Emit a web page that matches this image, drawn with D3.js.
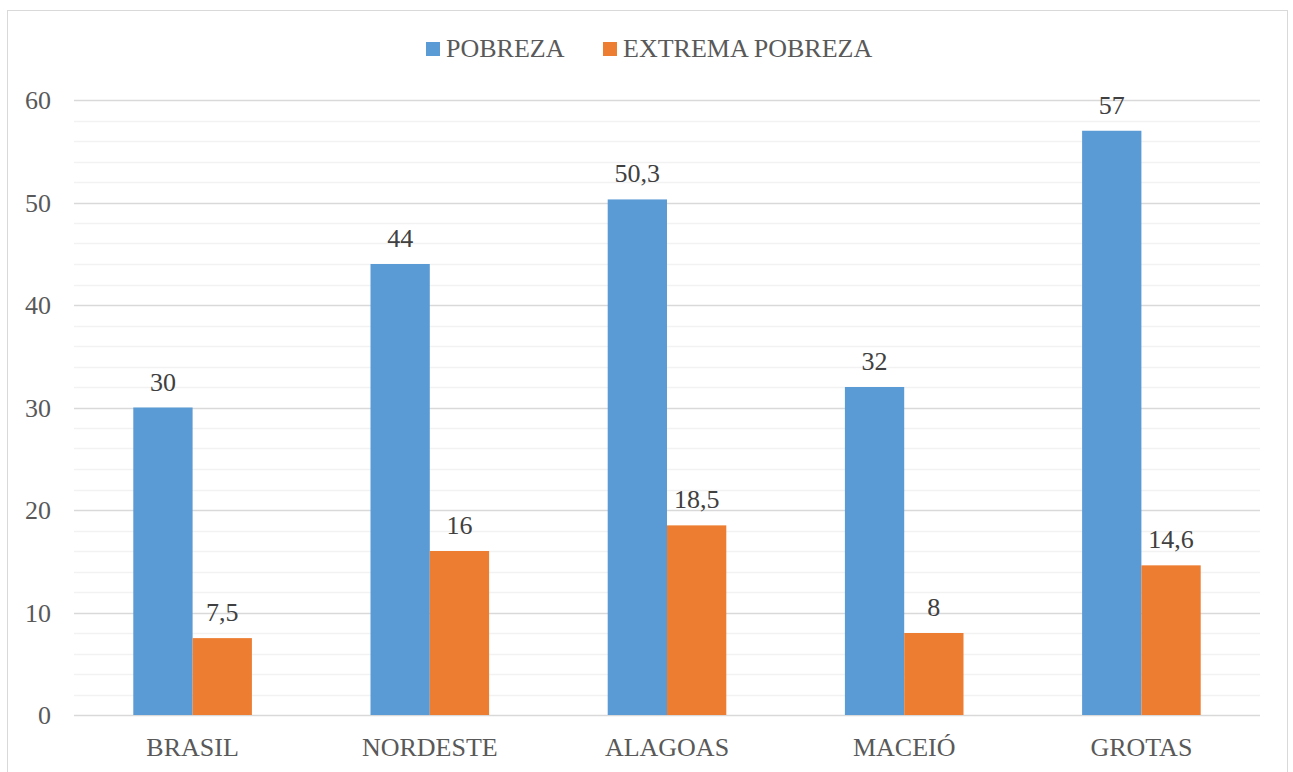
<!DOCTYPE html>
<html>
<head>
<meta charset="utf-8">
<script src="https://cdn.jsdelivr.net/npm/d3@7"></script>
<style>
  body { margin: 0; background: #fff; }
  svg { display: block; font-family: "Liberation Serif", "Times New Roman", serif; }
</style>
</head>
<body>
<svg id="chart" width="1293" height="772"></svg>
<script>
// categorias e séries
const categories = ['BRASIL', 'NORDESTE', 'ALAGOAS', 'MACEIÓ', 'GROTAS'];
const seriesNames = ['POBREZA', 'EXTREMA POBREZA'];
const pobreza = [30, 44, 50.3, 32, 57];
const extrema = [7.5, 16, 18.5, 8, 14.6];
const yTicks = [0, 10, 20, 30, 40, 50, 60];

const colors = ['#5b9bd5', '#ed7d31'];
const values = [pobreza, extrema];

const svg = d3.select('#chart');

// moldura do gráfico
svg.append('rect')
  .attr('x', 7.5).attr('y', 10.5)
  .attr('width', 1280).attr('height', 800)
  .attr('fill', '#fff').attr('stroke', '#d9d9d9');

const plot = { left: 74, right: 1260, top: 100, bottom: 715 };

const x = d3.scaleBand().domain(categories).range([plot.left, plot.right]).padding(0);
const y = d3.scaleLinear().domain([0, 60]).range([plot.bottom, plot.top]);
const barW = x.bandwidth() / 4;

// linhas de grade secundárias
const minor = d3.range(0, 61, 2).filter(v => v % 10 !== 0);
svg.append('g').selectAll('line').data(minor).join('line')
  .attr('x1', plot.left).attr('x2', plot.right)
  .attr('y1', d => Math.round(y(d)) + 0.5).attr('y2', d => Math.round(y(d)) + 0.5)
  .attr('stroke', '#f2f2f2').attr('stroke-width', 1.5);

// linhas de grade principais
svg.append('g').selectAll('line').data(yTicks).join('line')
  .attr('x1', plot.left).attr('x2', plot.right)
  .attr('y1', d => Math.round(y(d)) + 0.5).attr('y2', d => Math.round(y(d)) + 0.5)
  .attr('stroke', '#d9d9d9').attr('stroke-width', 1.5);

// rótulos do eixo y
svg.append('g').selectAll('text').data(yTicks).join('text')
  .attr('x', 51).attr('y', d => y(d) + 9)
  .attr('text-anchor', 'end')
  .attr('font-size', 26).attr('fill', '#595959')
  .text(d => d);

// barras
values.forEach((vals, s) => {
  const g = svg.append('g');
  g.selectAll('rect').data(vals).join('rect')
    .attr('x', (d, i) => x(categories[i]) + x.bandwidth() / 2 - barW + s * barW)
    .attr('y', d => y(d))
    .attr('width', barW)
    .attr('height', d => plot.bottom - y(d))
    .attr('fill', colors[s]);
  g.selectAll('text').data(vals).join('text')
    .attr('x', (d, i) => x(categories[i]) + x.bandwidth() / 2 - barW / 2 + s * barW)
    .attr('y', d => y(d) - 17)
    .attr('text-anchor', 'middle')
    .attr('font-size', 26).attr('fill', '#404040')
    .text(d => String(d).replace('.', ','));
});

// rótulos das categorias
svg.append('g').selectAll('text').data(categories).join('text')
  .attr('x', d => x(d) + x.bandwidth() / 2)
  .attr('y', 756)
  .attr('text-anchor', 'middle')
  .attr('font-size', 26).attr('fill', '#595959')
  .text(d => d);

// legenda
const legendX = [426, 603];
seriesNames.forEach((name, i) => {
  svg.append('rect')
    .attr('x', legendX[i]).attr('y', 42)
    .attr('width', 14).attr('height', 14)
    .attr('fill', colors[i]);
  svg.append('text')
    .attr('x', legendX[i] + 20).attr('y', 57)
    .attr('font-size', 26).attr('fill', '#595959')
    .text(name);
});
</script>
</body>
</html>
